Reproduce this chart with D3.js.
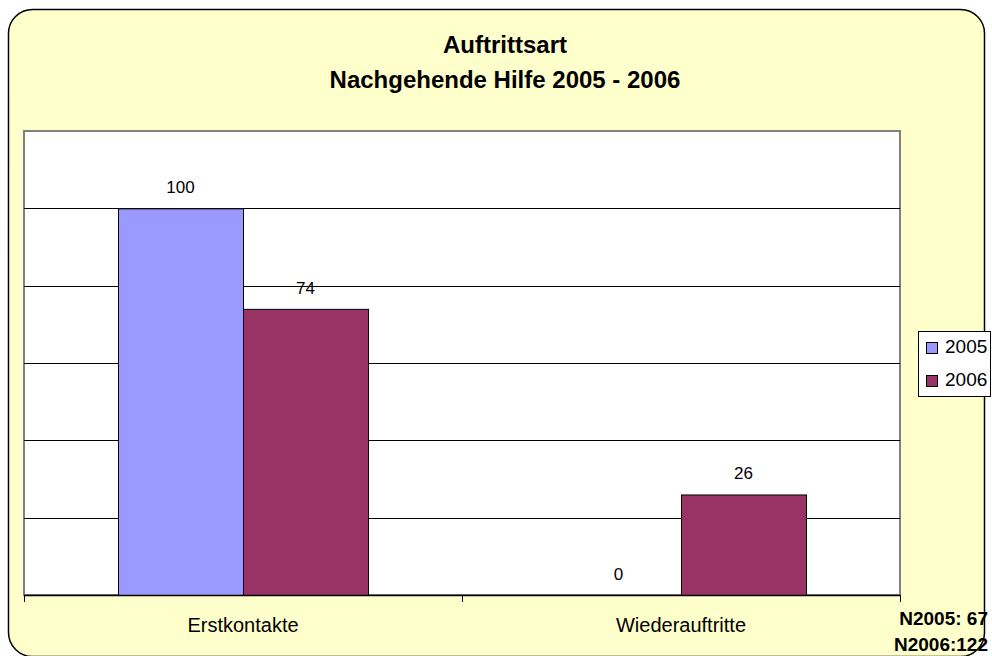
<!DOCTYPE html>
<html lang="de">
<head>
<meta charset="utf-8">
<script src="https://d3js.org/d3.v7.min.js"></script>
<style>
  body { margin: 0; background: #fff; }
  text { font-family: "Liberation Sans", Arial, sans-serif; fill: #000; }
</style>
</head>
<body>
<script>
var categories = ["Erstkontakte", "Wiederauftritte"];
var series = ["2005", "2006"];
var values2005 = [100, 0];
var values2006 = [74, 26];
var yTicks = [20, 40, 60, 80, 100];
var titleLines = ["Auftrittsart", "Nachgehende Hilfe 2005 - 2006"];
var notes = ["N2005: 67", "N2006:122"];

var colors = { "2005": "#9999ff", "2006": "#993366" };
var width = 992, height = 656;
var plot = { left: 24, right: 900, top: 131, bottom: 595 };

var svg = d3.select("body").append("svg")
    .attr("width", width)
    .attr("height", height);

// chart background
svg.append("rect")
    .attr("x", 8.5).attr("y", 9.5)
    .attr("width", 976).attr("height", 647)
    .attr("rx", 24).attr("ry", 24)
    .attr("fill", "#ffffcc")
    .attr("stroke", "#000")
    .attr("stroke-width", 1.5);

// title
svg.selectAll(".title")
    .data(titleLines)
    .enter().append("text")
    .attr("class", "title")
    .attr("x", 505)
    .attr("y", function(d, i) { return 53 + i * 35; })
    .attr("text-anchor", "middle")
    .attr("font-weight", "bold")
    .attr("font-size", 24)
    .text(function(d) { return d; });

var x0 = d3.scaleBand()
    .domain(categories)
    .range([plot.left, plot.right]);

var x1 = d3.scaleBand()
    .domain(series)
    .range([0, x0.bandwidth()])
    .paddingOuter(0.752);

var y = d3.scaleLinear()
    .domain([0, 120])
    .range([plot.bottom, plot.top]);

// plot area
svg.append("rect")
    .attr("x", plot.left).attr("y", plot.top)
    .attr("width", plot.right - plot.left)
    .attr("height", plot.bottom - plot.top)
    .attr("fill", "#fff")
    .attr("stroke", "#808080")
    .attr("stroke-width", 2);

svg.selectAll(".grid")
    .data(yTicks)
    .enter().append("line")
    .attr("class", "grid")
    .attr("x1", plot.left).attr("x2", plot.right)
    .attr("y1", function(d) { return Math.round(y(d)) + 0.5; })
    .attr("y2", function(d) { return Math.round(y(d)) + 0.5; })
    .attr("stroke", "#000");

var rows = [];
categories.forEach(function(c, i) {
    rows.push({ cat: c, s: "2005", v: values2005[i] });
    rows.push({ cat: c, s: "2006", v: values2006[i] });
});

svg.selectAll(".bar")
    .data(rows.filter(function(d) { return d.v > 0; }))
    .enter().append("rect")
    .attr("class", "bar")
    .attr("x", function(d) { return x0(d.cat) + x1(d.s) + 0.5; })
    .attr("y", function(d) { return y(d.v) + 0.5; })
    .attr("width", x1.bandwidth())
    .attr("height", function(d) { return y(0) - y(d.v); })
    .attr("fill", function(d) { return colors[d.s]; })
    .attr("stroke", "#000")
    .attr("stroke-width", 1);

svg.selectAll(".val")
    .data(rows)
    .enter().append("text")
    .attr("class", "val")
    .attr("x", function(d) { return x0(d.cat) + x1(d.s) + x1.bandwidth() / 2; })
    .attr("y", function(d) { return y(d.v) - 15; })
    .attr("text-anchor", "middle")
    .attr("font-size", 17)
    .text(function(d) { return d.v; });

// category axis
var xAxis = svg.append("g")
    .attr("transform", "translate(0," + plot.bottom + ")");
xAxis.append("line")
    .attr("x1", plot.left).attr("x2", plot.right)
    .attr("y1", 0.5).attr("y2", 0.5)
    .attr("stroke", "#000").attr("stroke-width", 1.5);
var edges = categories.map(function(c) { return x0(c); }).concat([plot.right]);
xAxis.selectAll(".tick")
    .data(edges)
    .enter().append("line")
    .attr("x1", function(d) { return d + 0.5; })
    .attr("x2", function(d) { return d + 0.5; })
    .attr("y1", 0).attr("y2", 7)
    .attr("stroke", "#000");
xAxis.selectAll(".cat")
    .data(categories)
    .enter().append("text")
    .attr("x", function(d) { return x0(d) + x0.bandwidth() / 2; })
    .attr("y", 37)
    .attr("text-anchor", "middle")
    .attr("font-size", 20)
    .text(function(d) { return d; });

// legend
var legend = svg.append("g").attr("transform", "translate(918,331)");
legend.append("rect")
    .attr("x", 0.5).attr("y", 0.5)
    .attr("width", 72).attr("height", 65)
    .attr("fill", "#fff")
    .attr("stroke", "#000");
var item = legend.selectAll(".item")
    .data(series)
    .enter().append("g")
    .attr("transform", function(d, i) { return "translate(0," + (i * 33) + ")"; });
item.append("rect")
    .attr("x", 8.5).attr("y", 11.5)
    .attr("width", 11).attr("height", 11)
    .attr("fill", function(d) { return colors[d]; })
    .attr("stroke", "#000");
item.append("text")
    .attr("x", 27)
    .attr("y", 22)
    .attr("font-size", 19)
    .text(function(d) { return d; });

// sample sizes
svg.selectAll(".note")
    .data(notes)
    .enter().append("text")
    .attr("class", "note")
    .attr("x", 988)
    .attr("y", function(d, i) { return 625 + i * 26; })
    .attr("text-anchor", "end")
    .attr("font-weight", "bold")
    .attr("font-size", 19)
    .text(function(d) { return d; });
</script>
</body>
</html>
